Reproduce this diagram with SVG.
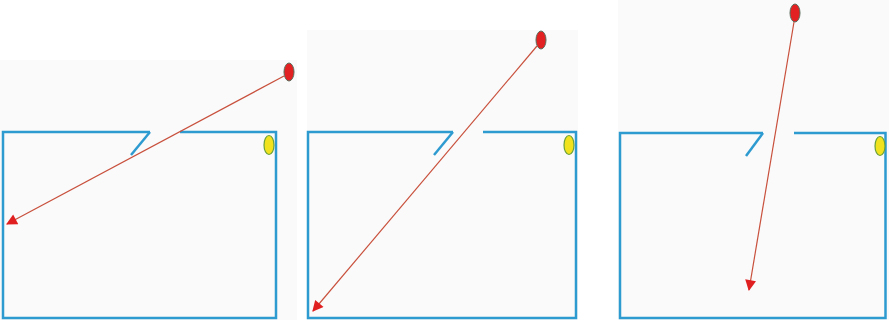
<svg xmlns="http://www.w3.org/2000/svg" width="889" height="320" viewBox="0 0 889 320">
<style>
.wall{fill:none;stroke:#2e9bd0;stroke-width:2.5;stroke-linecap:butt}
.ray{stroke:#c8503c;stroke-width:1.2;fill:none}
.src{fill:#e22222;stroke:#5a6a5a;stroke-width:1}
.sensor{fill:#f0e21c;stroke:#6aa03a;stroke-width:1.2}
.bg{fill:#fafafa}
</style>
<defs>
<marker id="ah" viewBox="0 0 10 10" refX="9" refY="5" markerWidth="13" markerHeight="11" markerUnits="userSpaceOnUse" orient="auto">
<path d="M0,0 L10,5 L0,10 Z" fill="#e02020"/>
</marker>
</defs>
<rect width="889" height="320" fill="#ffffff"/>
<rect class="bg" x="0" y="60" width="297" height="260"/>
<rect class="bg" x="307" y="30" width="271" height="290"/>
<rect class="bg" x="618" y="0" width="271" height="320"/>
<g id="panel1">
<path class="wall" d="M150,132 L3,132 L3,318 L276,318 L276,132 L180,132"/>
<path class="wall" d="M150,132 L131,155"/>
<ellipse class="sensor" cx="269" cy="145" rx="5" ry="9.5"/>
<ellipse class="src" cx="289" cy="72" rx="5" ry="9"/>
</g>
<g id="panel2">
<path class="wall" d="M453,132 L308,132 L308,318 L576,318 L576,132 L483,132"/>
<path class="wall" d="M453,132 L434,155"/>
<ellipse class="sensor" cx="569" cy="145" rx="5" ry="9.5"/>
<ellipse class="src" cx="541" cy="40" rx="5" ry="9"/>
</g>
<g id="panel3">
<path class="wall" d="M763,133 L620,133 L620,318 L885.5,318 L885.5,133 L794,133"/>
<path class="wall" d="M763,133 L746,156"/>
<ellipse class="sensor" cx="880" cy="146" rx="5" ry="9.5"/>
<ellipse class="src" cx="795" cy="13" rx="5" ry="9"/>
</g>
<g id="connectors">
<line class="ray" x1="284" y1="76" x2="7" y2="224" marker-end="url(#ah)"/>
<line class="ray" x1="537" y1="46" x2="313" y2="311" marker-end="url(#ah)"/>
<line class="ray" x1="794" y1="22" x2="749" y2="290" marker-end="url(#ah)"/>
</g>
</svg>
